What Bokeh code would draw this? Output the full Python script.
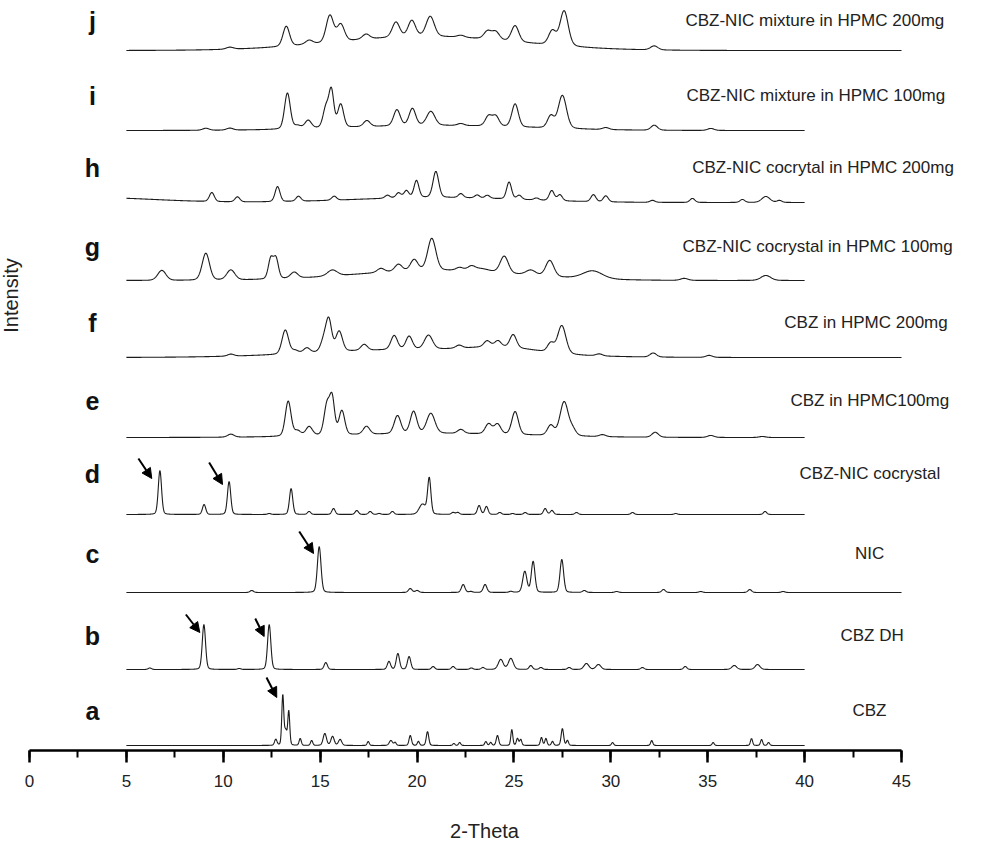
import numpy as np
from bokeh.plotting import figure
from bokeh.models import Range1d, LinearAxis, SingleIntervalTicker, Arrow, NormalHead, ColumnDataSource
from bokeh.core.properties import value
from bokeh.embed import file_html
from bokeh.resources import INLINE

# ---------------- data ----------------
LETTERS = ["a", "b", "c", "d", "e", "f", "g", "h", "i", "j"]
NAMES = ["CBZ", "CBZ DH", "NIC", "CBZ-NIC cocrystal", "CBZ in HPMC100mg",
         "CBZ in HPMC 200mg", "CBZ-NIC cocrystal in HPMC 100mg",
         "CBZ-NIC cocrytal in HPMC 200mg", "CBZ-NIC mixture in HPMC 100mg",
         "CBZ-NIC mixture in HPMC 200mg"]
OFFSETS = [5, 81, 158, 236, 313, 393, 470, 548, 620, 700]
X_START = [5, 5, 5, 5, 5, 5, 5, 5, 5, 5]
X_END = [40, 40, 45, 40, 40, 45, 40, 40, 40, 45]
DEFAULT_FWHM = [0.13, 0.2, 0.22, 0.2, 0.4, 0.4, 0.45, 0.3, 0.4, 0.45]
LABEL_Y = [40, 115, 197, 277, 350, 428, 504, 583, 655, 730]
NAME_X = [42.47, 41.85, 42.6, 39.74, 39.27, 38.95, 33.7, 34.2, 33.9, 33.85]

# peaks: (2-theta, height, fwhm or None)
PEAKS_A = [(12.71, 6, 0.15), (13.07, 50, 0.12), (13.22, 14, 0.15), (13.38, 34, 0.12),
           (13.97, 7, None), (14.56, 5, None), (15.24, 12, 0.2), (15.64, 9, 0.2),
           (16.03, 6, 0.2), (17.48, 4, None), (18.65, 5, 0.2), (18.87, 3, None),
           (19.65, 10, 0.15), (20.07, 4, None), (20.54, 14, 0.15), (21.9, 2, None),
           (22.2, 3, None), (23.55, 4, None), (23.8, 3, None), (24.15, 10, 0.15),
           (24.89, 16, 0.12), (25.18, 7, None), (25.35, 6, None), (26.42, 8, None),
           (26.65, 7, None), (26.99, 4, None), (27.5, 17, 0.15), (27.76, 5, None),
           (30.09, 3, None), (32.11, 5, None), (35.28, 3, None), (37.26, 7, None),
           (37.78, 6, None), (38.14, 3, None)]
PEAKS_B = [(6.21, 1.5, None), (9.0, 45, None), (10.82, 1, None), (12.37, 45, None),
           (15.29, 7, None), (18.55, 8, None), (19.01, 16, None), (19.59, 13, None),
           (20.83, 3, None), (21.86, 3, None), (22.8, 1.5, None), (23.4, 2, None),
           (24.32, 10, 0.3), (24.84, 11, 0.3), (25.87, 4, None), (26.39, 2, None),
           (27.85, 2, None), (28.74, 6, 0.3), (29.36, 5, 0.3), (31.63, 2, None),
           (33.84, 3, None), (36.37, 4, 0.3), (37.57, 5, 0.3)]
PEAKS_C = [(11.47, 2, None), (14.95, 46, None), (19.65, 4, None), (20.0, 2, None),
           (22.38, 8, None), (22.77, 1, None), (23.51, 8, None), (24.84, 1, None),
           (25.56, 21, 0.25), (25.99, 31, None), (27.47, 33, None), (28.63, 2, None),
           (30.3, 1, None), (32.72, 3, None), (34.64, 1, None), (37.17, 3, None),
           (38.89, 1, None)]
PEAKS_D = [(6.73, 44, None), (9.01, 10, None), (10.3, 33, None), (12.37, 1, None),
           (13.5, 26, None), (14.43, 3, None), (15.69, 6, None), (16.89, 4, None),
           (17.58, 3, None), (18.04, 1, None), (18.73, 3, None), (20.28, 10, 0.4),
           (20.63, 36, None), (21.86, 2, None), (22.1, 2, None), (23.2, 9, None),
           (23.58, 8, None), (24.27, 2, None), (24.93, 1, None), (25.58, 2, None),
           (26.61, 6, None), (26.96, 4, None), (28.23, 2, None), (31.12, 2, None),
           (33.35, 1, None), (37.96, 3, None)]
PEAKS_E = [(10.39, 3, None), (13.35, 35, 0.35), (13.83, 5, None), (14.43, 9, None),
           (15.35, 30, 0.35), (15.62, 35, 0.3), (16.12, 24, 0.35), (17.39, 8, None),
           (18.99, 18, None), (19.82, 22, None), (20.71, 20, 0.5), (22.26, 4, None),
           (23.69, 10, None), (24.15, 10, None), (25.06, 23, None), (26.9, 10, None),
           (27.59, 34, 0.5), (28.03, 6, None), (29.57, 2, None), (32.29, 5, None),
           (35.16, 2, None), (37.82, 1, None)]
PEAKS_F = [(10.39, 2, None), (13.2, 24, None), (13.7, 3, None), (14.31, 5, None),
           (15.2, 12, 0.4), (15.45, 30, 0.35), (15.98, 20, None), (17.27, 6, None),
           (18.82, 14, None), (19.59, 13, None), (20.59, 14, 0.5), (22.17, 3, None),
           (23.62, 6, None), (24.17, 6, None), (24.96, 13, None), (26.9, 9, None),
           (27.47, 28, 0.5), (29.4, 2, None), (32.19, 4, None), (35.07, 2, None)]
PEAKS_G = [(6.83, 10, 0.5), (9.1, 27, None), (10.39, 10, 0.5), (12.45, 20, 0.3),
           (12.72, 20, 0.3), (13.66, 6, None), (15.63, 6, 0.6), (18.13, 4, None),
           (19.04, 7, None), (19.85, 11, None), (20.76, 32, 0.5), (22.2, 3, None),
           (22.8, 4, None), (23.3, 3, 1.0), (24.5, 17, 0.5), (25.87, 5, 0.6),
           (26.85, 16, 0.5), (29.06, 8, 1.2), (33.79, 2, None), (38.0, 5, 0.6)]
PEAKS_H = [(9.41, 9, None), (10.73, 5, None), (12.8, 15, None), (13.88, 5, None),
           (15.72, 4, None), (18.47, 3, None), (19.04, 5, None), (19.45, 7, None),
           (19.97, 17, None), (20.97, 26, 0.35), (22.26, 4, None), (23.1, 3, None),
           (23.63, 3, None), (24.75, 17, None), (25.27, 4, None), (26.16, 2, None),
           (26.95, 10, None), (27.37, 6, None), (29.1, 7, None), (29.74, 6, None),
           (32.15, 2, None), (34.21, 4, None), (36.79, 3, None), (38.0, 6, 0.5),
           (38.7, 2, None)]
PEAKS_I = [(9.1, 2, None), (10.34, 2, None), (13.31, 36, 0.35), (13.83, 3, None),
           (14.38, 8, None), (15.3, 20, 0.35), (15.58, 36, 0.3), (16.06, 23, 0.35),
           (17.41, 6, None), (18.96, 16, None), (19.76, 17, None), (20.71, 14, 0.5),
           (22.26, 2, None), (23.69, 10, None), (24.06, 10, None), (25.06, 23, None),
           (26.9, 12, None), (27.5, 33, 0.5), (29.74, 2, None), (32.24, 5, None),
           (35.16, 2, None)]
PEAKS_J = [(10.34, 2, None), (13.25, 20, 0.4), (14.43, 4, None), (15.5, 27, 0.45),
           (16.06, 17, None), (17.37, 5, None), (18.91, 15, None), (19.73, 16, None),
           (20.68, 20, 0.5), (22.26, 2, None), (23.64, 8, None), (24.06, 8, None),
           (25.06, 16, None), (26.98, 14, None), (27.59, 35, 0.5), (32.24, 4, None)]
ALL_PEAKS = [PEAKS_A, PEAKS_B, PEAKS_C, PEAKS_D, PEAKS_E, PEAKS_F, PEAKS_G,
             PEAKS_H, PEAKS_I, PEAKS_J]

# broad amorphous halos: (center, height, fwhm)
HALOS = [[], [], [], [], [(21, 4, 11)], [(20, 8, 12), (24.5, 5, 4)],
         [(21, 10, 10)], [(3, 5, 8), (21, 5, 10)], [(21, 5, 11)], [(20.5, 14, 11)]]

# arrows: (trace index, tail 2theta, tail height, head 2theta, head height)
ARROWS = [(0, 12.23, 68, 12.76, 48),
          (1, 8.07, 55, 8.79, 37), (1, 11.65, 51, 12.11, 33),
          (2, 13.92, 61, 14.66, 39),
          (3, 5.62, 56, 6.31, 36), (3, 9.27, 52, 9.96, 30)]

X_TICK_INTERVAL = 5
X_MIN, X_MAX = 0, 45

# ---------------- build ----------------
FONT = "Liberation Sans"
LN2x4 = 4 * np.log(2)


def pattern(x, peaks, fwhm0, halos):
    y = np.zeros_like(x)
    for pos, h, w in peaks:
        w = fwhm0 if w is None else w
        u = (x - pos) / w
        y += h * (0.8 * np.exp(-LN2x4 * u * u) + 0.2 / (1 + 4 * u * u))
    for pos, h, w in halos:
        u = (x - pos) / w
        y += h * np.exp(-LN2x4 * u * u)
    return y


p = figure(frame_width=968, frame_height=750,
           x_range=Range1d(-1.4965, 48.4575), y_range=Range1d(0, 750),
           output_backend="svg", toolbar_location=None,
           x_axis_type=None, y_axis_type=None, min_border=0)
p.outline_line_color = None
p.background_fill_color = "white"
p.border_fill_color = "white"

for k in range(len(LETTERS)):
    x = np.arange(X_START[k], X_END[k] + 1e-9, 0.02)
    y = OFFSETS[k] + pattern(x, ALL_PEAKS[k], DEFAULT_FWHM[k], HALOS[k])
    p.line(x, y, line_color="#1c1c1c", line_width=1.1)

lab_src = ColumnDataSource(dict(x=[3.25] * len(LETTERS), y=LABEL_Y, t=LETTERS))
p.text(x="x", y="y", text="t", source=lab_src, text_font=value(FONT),
       text_font_size="25px", text_font_style="bold", text_align="center",
       text_baseline="middle", text_color="#111111")

name_src = ColumnDataSource(dict(x=NAME_X, y=LABEL_Y, t=NAMES))
p.text(x="x", y="y", text="t", source=name_src, text_font=value(FONT),
       text_font_size="17px", text_align="left", text_baseline="middle",
       text_color="#222222")

p.text(x=[-0.98], y=[455], text=["Intensity"], text_font=value(FONT),
       text_font_size="20px", angle=np.pi / 2, text_align="center",
       text_baseline="middle", text_color="#222222")

arr_src = ColumnDataSource(dict(
    x0=[a[1] for a in ARROWS], y0=[OFFSETS[a[0]] + a[2] for a in ARROWS],
    x1=[a[3] for a in ARROWS], y1=[OFFSETS[a[0]] + a[4] for a in ARROWS]))
p.add_layout(Arrow(end=NormalHead(size=10, fill_color="black", line_color="black"),
                   x_start="x0", y_start="y0", x_end="x1", y_end="y1",
                   source=arr_src, line_width=2, line_color="black"))

ax = LinearAxis(ticker=SingleIntervalTicker(interval=X_TICK_INTERVAL, num_minor_ticks=2),
                bounds=(X_MIN, X_MAX), axis_label="2-Theta")
ax.axis_line_width = 2.5
ax.axis_line_color = "black"
ax.major_tick_line_width = 2.5
ax.major_tick_out = 12
ax.major_tick_in = 0
ax.minor_tick_line_width = 2
ax.minor_tick_out = 7
ax.minor_tick_in = 0
ax.major_label_text_font = FONT
ax.major_label_text_font_size = "17px"
ax.major_label_text_color = "#222222"
ax.major_label_standoff = 12
ax.axis_label_text_font = FONT
ax.axis_label_text_font_size = "20px"
ax.axis_label_text_font_style = "normal"
ax.axis_label_text_color = "#222222"
ax.axis_label_standoff = 30
p.add_layout(ax, "below")

open("out.html", "w").write(file_html(p, INLINE))
